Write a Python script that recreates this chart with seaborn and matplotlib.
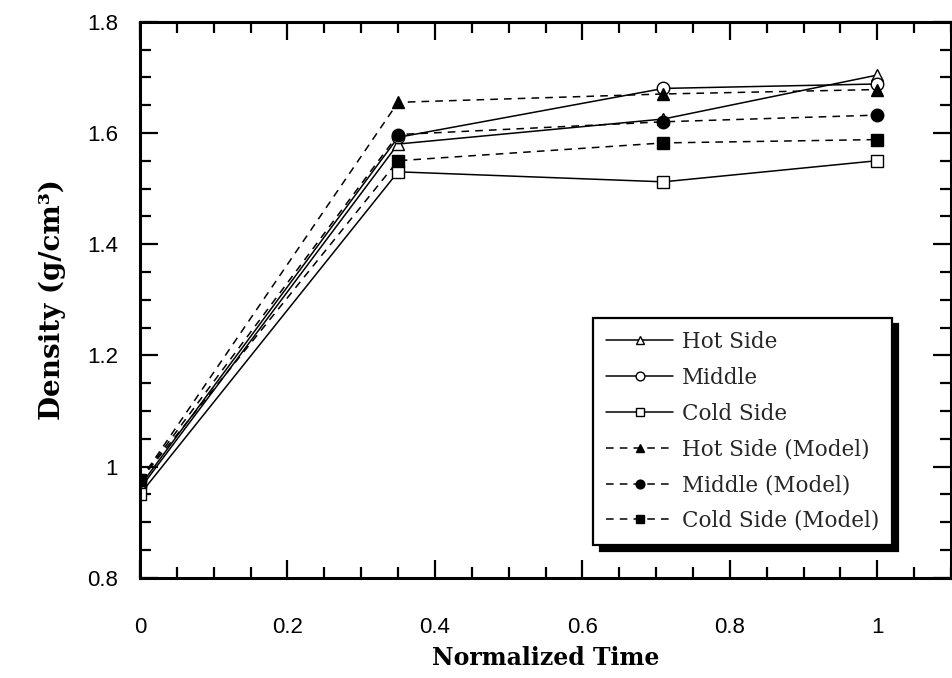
import numpy as np
import pandas as pd
import matplotlib
matplotlib.use("Agg")
import matplotlib.pyplot as plt
from matplotlib.ticker import MultipleLocator
import seaborn as sns

# ---- data ----
time = [0.0, 0.35, 0.71, 1.0]
hot_side = [0.960, 1.580, 1.625, 1.704]
middle = [0.965, 1.592, 1.680, 1.688]
cold_side = [0.950, 1.530, 1.512, 1.550]
hot_side_model = [0.975, 1.655, 1.670, 1.678]
middle_model = [0.975, 1.597, 1.620, 1.632]
cold_side_model = [0.975, 1.550, 1.582, 1.588]

series_names = ["Hot Side", "Middle", "Cold Side",
                "Hot Side (Model)", "Middle (Model)", "Cold Side (Model)"]
series_values = [hot_side, middle, cold_side,
                 hot_side_model, middle_model, cold_side_model]
x_ticks = [0, 0.2, 0.4, 0.6, 0.8, 1.0]
x_tick_labels = ["0", "0.2", "0.4", "0.6", "0.8", "1"]
y_ticks = [0.8, 1.0, 1.2, 1.4, 1.6, 1.8]
y_tick_labels = ["0.8", "1", "1.2", "1.4", "1.6", "1.8"]

df = pd.DataFrame({
    "time": np.tile(time, len(series_names)),
    "density": np.concatenate(series_values),
    "series": np.repeat(series_names, len(time)),
})

sns.set_theme(style="ticks")
plt.rcParams["font.family"] = ["Liberation Sans", "DejaVu Sans"]

fig = plt.figure(figsize=(9.53, 6.78), dpi=100)
ax = fig.add_axes([140 / 953, 1 - 577.7 / 678, 811 / 953, 556 / 678])

styles = {
    "Hot Side": dict(marker="^", mfc="white", ls="-"),
    "Middle": dict(marker="o", mfc="white", ls="-"),
    "Cold Side": dict(marker="s", mfc="white", ls="-"),
    "Hot Side (Model)": dict(marker="^", mfc="black", ls=(0, (5, 4))),
    "Middle (Model)": dict(marker="o", mfc="black", ls=(0, (5, 4))),
    "Cold Side (Model)": dict(marker="s", mfc="black", ls=(0, (5, 4))),
}

for name in series_names:
    st = styles[name]
    sub = df[df["series"] == name]
    sns.lineplot(data=sub, x="time", y="density", ax=ax, color="black",
                 marker=st["marker"], markerfacecolor=st["mfc"],
                 markeredgecolor="black", markeredgewidth=1.0,
                 markersize=9, linestyle=st["ls"], linewidth=1.1,
                 label=name, sort=False, errorbar=None)

ax.set_xlim(0, 1.1)
ax.set_ylim(0.8, 1.8)
ax.set_xticks(x_ticks)
ax.set_xticklabels(x_tick_labels)
ax.set_yticks(y_ticks)
ax.set_yticklabels(y_tick_labels)
ax.xaxis.set_minor_locator(MultipleLocator(0.05))
ax.yaxis.set_minor_locator(MultipleLocator(0.05))
ax.tick_params(which="both", direction="in", top=True, right=True,
               color="black", width=1.6)
ax.tick_params(which="major", length=13)
ax.tick_params(which="minor", length=8)
ax.tick_params(axis="x", which="major", pad=28, labelsize=16, labelcolor="black")
ax.tick_params(axis="y", which="major", pad=16, labelsize=16, labelcolor="black")
for sp in ax.spines.values():
    sp.set_visible(True)
    sp.set_color("black")
    sp.set_linewidth(2.2)

ax.set_xlabel("Normalized Time", fontfamily="DejaVu Serif", fontweight="bold",
              fontsize=17, color="black", labelpad=6)
ax.set_ylabel("Density (g/cm\u00b3)", fontfamily="DejaVu Serif", fontweight="bold",
              fontsize=20, color="black", labelpad=15)

leg = ax.legend(loc="upper left", bbox_to_anchor=(0.559, 0.467),
                borderaxespad=0, frameon=True, fancybox=False,
                prop={"family": "DejaVu Serif", "size": 15.5},
                handlelength=3.1, handletextpad=0.4, labelspacing=0.64,
                borderpad=0.6, markerscale=0.7,
                shadow={"ox": 4.5, "oy": -4.5, "color": "black", "alpha": 1})
leg.get_frame().set_edgecolor("black")
leg.get_frame().set_linewidth(1.6)
leg.get_frame().set_facecolor("white")
leg.get_frame().set_alpha(1)

fig.savefig("out.png", dpi=100)
